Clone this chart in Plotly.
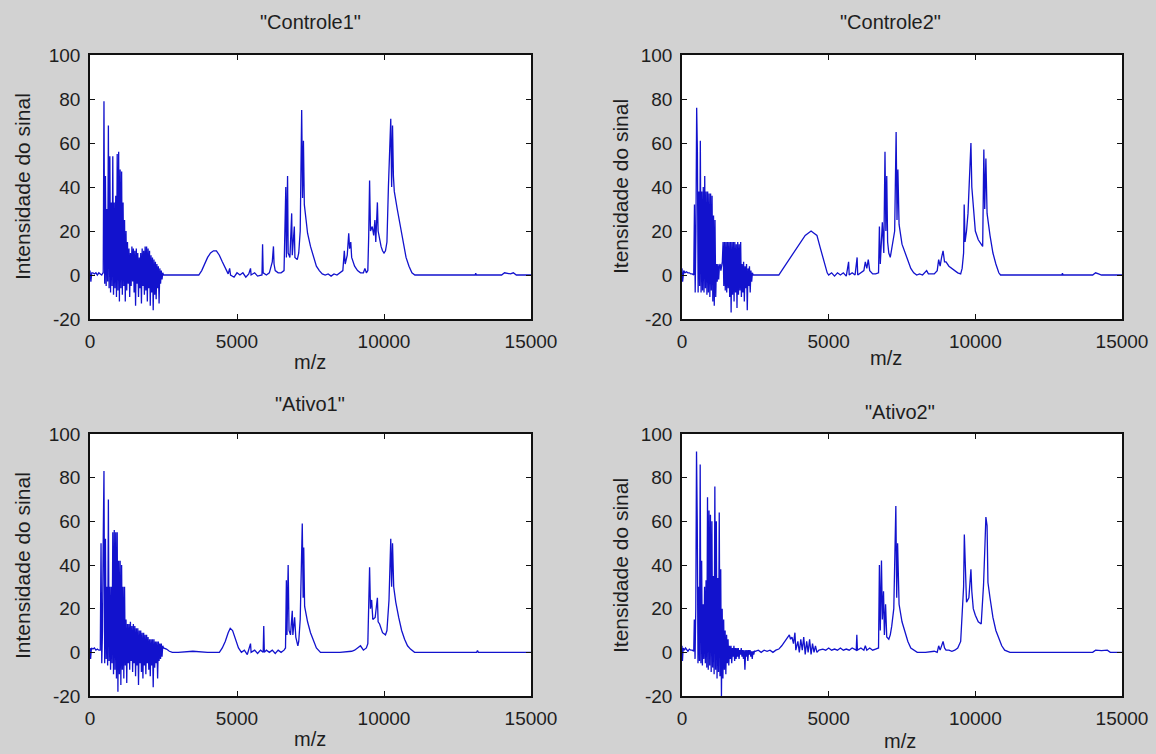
import plotly.graph_objects as go

# ---------------- data ----------------
titles = ['"Controle1"', '"Controle2"', '"Ativo1"', '"Ativo2"']
ylabels = ["Intensidade do sinal", "Itensidade do sinal", "Intensidade do sinal", "Itensidade do sinal"]
xlabel = "m/z"
xticks = [0, 5000, 10000, 15000]
yticks = [-20, 0, 20, 40, 60, 80, 100]

c1_mz = [0, 30, 60, 100, 150, 200, 250, 300, 350, 400, 440,
         450, 475, 500, 525, 550, 575, 600, 625, 650, 675, 700, 725, 750, 775, 800, 825, 850, 875, 900, 925,
         950, 975, 1000, 1025, 1050, 1075, 1100, 1125, 1150, 1175, 1200, 1225, 1250, 1275, 1300, 1325, 1350,
         1375, 1400, 1425, 1450, 1475, 1500, 1525, 1550, 1575, 1600, 1625, 1650, 1675, 1700, 1725, 1750, 1775,
         1800, 1825, 1850, 1875, 1900, 1925, 1950, 1975, 2000, 2025, 2050, 2075, 2100, 2125, 2150, 2175, 2200,
         2225, 2250, 2275, 2300, 2325, 2350, 2375, 2400, 2425, 2450, 2475, 2500,
         2550, 3700, 3800, 3900, 4000, 4100, 4200, 4300, 4400, 4500, 4600, 4700, 4750, 4780, 4900, 5000, 5100,
         5200, 5300, 5400, 5460, 5480, 5600, 5700, 5850, 5870, 5890, 6000, 6100, 6150, 6200, 6240, 6260, 6300,
         6400, 6500, 6600, 6660, 6680, 6720, 6740, 6800, 6860, 6880, 6950, 6970, 7050, 7100, 7150, 7200, 7230,
         7260, 7290, 7350, 7400, 7500, 7600, 7700, 7800, 7900, 8000, 8100, 8200, 8300, 8400, 8500, 8600, 8650,
         8680, 8750, 8800, 8830, 8870, 8900, 9000, 9100, 9200, 9300, 9350, 9400, 9450, 9480, 9510, 9540, 9600,
         9650, 9690, 9720, 9775, 9800, 9850, 9900, 9950, 10000, 10050, 10100, 10150, 10200, 10230, 10260,
         10290, 10320, 10350, 10450, 10550, 10650, 10750, 10850, 10950, 11050, 12000, 13100, 13120, 13140,
         14000, 14100, 14300, 14400, 14500, 15000]
c1_int = [2, -3, 1, 1, 0.5, 1, 0, 1, 0.5, 0, 1,
          1, 79, -4, 45, -5, 30, -3, 68, -6, 54, -8, 33, -5, 54, -9, 33, -6, 36, -10, 55,
          -7, 56, -12, 48, -6, 47, -9, 33, -5, 25, -12, 20, -7, 15, -4, 12, -10,
          10, -5, 13, -3, 12, -8, 11, -14, 12, -4, 10, -10, 8, -6, 10, -13, 12,
          -5, 11, -9, 13, -7, 13, -12, 12, -6, 11, -14, 9, -8, 8, -16, 7, -9,
          6, -11, 5, -6, 4, -13, 3, -4, 2, -2, 1, 0,
          0, 0, 2, 5, 8, 10, 11, 11, 9, 6, 3, 0.5, 3, 0, -1, 1, 0,
          1, -1, 0.5, 3, 0, 1, -0.5, 0, 14, 1, 0, 1, 4, 6, 13, 5, 2,
          1, 1, 2, 40, 8, 45, 10, 8, 28, 9, 22, 8, 7, 10, 20, 75, 35,
          61, 32, 25, 19, 13, 8, 4, 2, 0.5, 0, 0.5, -0.5, 0.5, 0, 1, 2, 11,
          5, 9, 19, 12, 15, 8, 4, 2, 1, 1, 3, 1, 2, 18, 43, 20, 22,
          18, 25, 15, 33, 20, 16, 13, 11, 10, 11, 15, 40, 55, 71, 40,
          68, 45, 38, 30, 22, 14, 8, 4, 1, 0, 0, 0, 0.8, 0,
          0, 1, 0.5, 1, 0, 0]

c2_mz = [0, 20, 60, 100, 150, 200, 250, 300, 350,
         400, 425, 450, 475, 500, 525, 550, 575, 600, 625, 650, 675, 700, 725, 750, 775, 800, 825, 850, 875,
         900, 925, 950, 975, 1000, 1025, 1050, 1075, 1100, 1125, 1150, 1175, 1200, 1225, 1250, 1275, 1300,
         1325, 1350, 1375, 1400, 1425, 1450, 1475, 1500, 1525, 1550, 1575, 1600, 1625, 1650, 1675, 1700,
         1725, 1750, 1775, 1800, 1825, 1850, 1875, 1900, 1925, 1950, 1975, 2000, 2025, 2050, 2075, 2100,
         2125, 2150, 2175, 2200, 2225, 2250, 2275, 2300, 2325, 2350, 2375, 2400, 2425,
         2500, 3300, 3400, 3500, 3600, 3700, 3800, 3900, 4000, 4100, 4200, 4300, 4400, 4500, 4600, 4700,
         4800, 4900, 4950, 5000, 5100, 5200, 5300, 5400, 5500, 5600, 5680, 5700, 5800, 5900, 5970, 5990,
         6100, 6200, 6250, 6300, 6350, 6400, 6500, 6600, 6700, 6730, 6760, 6830, 6880, 6920, 6950, 6980,
         7010, 7050, 7100, 7150, 7250, 7300, 7330, 7360, 7400, 7500, 7600, 7700, 7800, 7900, 8000, 8100,
         8200, 8340, 8400, 8600, 8700, 8750, 8800, 8850, 8900, 8950, 9000, 9100, 9200, 9300, 9400, 9500,
         9550, 9600, 9620, 9650, 9700, 9750, 9790, 9850, 9880, 9940, 10000, 10100, 10200, 10250, 10290,
         10320, 10360, 10400, 10500, 10600, 10700, 10800, 10860, 12950, 12970, 12990, 14000, 14100, 14200,
         14300, 15000]
c2_int = [3, -3, 2, 1, 1.5, 1, 1, 0.5, 0.5,
          0, 32, -8, 20, 76, 56, -8, 38, -5, 61, -8, 38, -7, 40, -8, 45, -6, 38, -9, 38,
          -8, 37, -10, 37, -7, 36, -12, 27, -14, 25, -10, 5, -3, 5, -2, 4, 5,
          2, 4, 6, 15, -5, 15, -7, 15, -8, 15, -6, 15, -10, 15, -17, 15,
          -9, 15, -12, 15, -8, 14, -15, 15, -9, 14, -7, 15, -10, 5, -8, 6,
          -12, 4, -6, 5, -16, 3, -5, 4, -8, 2, -3, 1, 0,
          0, 0, 2, 4, 6, 8, 10, 12, 14, 16, 18, 19, 20, 19, 18, 13,
          8, 3, 1, 0, 1, -0.5, 1, 0, 1, -0.5, 6, 0, 1, 0, 8, 0,
          1, 2, 6, 3, 7, 2, 0.5, 0.5, 1, 22, 5, 24, 10, 56, 20, 45,
          15, 10, 8, 12, 20, 65, 25, 48, 23, 14, 10, 7, 3, 1, 0, 0.5,
          0, 2, 0.5, 0.5, 2, 7, 4, 8, 11, 6, 6, 4, 3, 2, 1, 0.5,
          3, 10, 32, 15, 20, 28, 43, 60, 40, 30, 20, 16, 14, 13, 57,
          30, 53, 28, 18, 10, 5, 1, 0, 0, 0.8, 0, 0, 1, 0.5,
          0, 0]

a1_mz = [0, 20, 50, 100, 150, 200, 250, 300, 350,
         375, 400, 425, 450, 475, 500, 525, 550, 575, 600, 625, 650, 675, 700, 725, 750, 775, 800, 825, 850,
         875, 900, 925, 950, 975, 1000, 1025, 1050, 1075, 1100, 1125, 1150, 1175, 1200, 1225, 1250, 1275,
         1300, 1325, 1350, 1375, 1400, 1425, 1450, 1475, 1500, 1525, 1550, 1575, 1600, 1625, 1650, 1675,
         1700, 1725, 1750, 1775, 1800, 1825, 1850, 1875, 1900, 1925, 1950, 1975, 2000, 2025, 2050, 2075,
         2100, 2125, 2150, 2175, 2200, 2225, 2250, 2275, 2300, 2325, 2350, 2375, 2400, 2425, 2450, 2475,
         2500, 2600, 2700, 2800,
         3000, 3500, 4000, 4400, 4500, 4600, 4700, 4770, 4850, 4950, 5050, 5150, 5250, 5350, 5460, 5480,
         5600, 5700, 5800, 5890, 5910, 5930, 6000, 6100, 6200, 6300, 6400, 6500, 6600, 6650, 6680, 6700,
         6740, 6770, 6820, 6880, 6900, 6960, 7000, 7070, 7100, 7150, 7220, 7250, 7270, 7300, 7400, 7500,
         7600, 7700, 7840, 8000, 8500, 8900, 9000, 9100, 9200, 9300, 9400, 9450, 9475, 9510, 9540, 9580,
         9620, 9700, 9775, 9800, 9850, 9950, 10050, 10100, 10170, 10230, 10260, 10290, 10330, 10400, 10500,
         10600, 10700, 10800, 10900, 11040, 13150, 13180, 13210, 15000]
a1_int = [2, -3, 2, 1.5, 2, 1, 1.5, 1, 1,
          50, -5, 10, 52, 83, -5, 52, -3, 30, -6, 70, -4, 30, -8, 30, -5, 55, -10, 56, -8,
          55, -12, 55, -18, 42, -10, 42, -15, 40, -8, 30, -12, 30, -6, 15, -14, 13,
          -5, 13, -8, 14, -4, 12, -9, 13, -5, 12, -11, 11, -6, 11, -15, 10,
          -5, 10, -9, 9, -12, 9, -6, 8, -10, 8, -5, 7, -8, 6, -11, 6,
          -6, 6, -16, 6, -7, 5, -5, 5, -12, 5, -4, 4, -3, 4, -2, 3,
          2, 1.5, 0.5, 0,
          0, 0.5, 0, 0, 2, 5, 9, 11, 10, 6, 2, 0, 1, -1, 4, 0,
          1, -0.5, 1, 0, 12, 0, 1, 0, 1, -0.5, 1, 0, 1, 2, 33, 8,
          40, 10, 8, 19, 8, 16, 7, 3, 5, 15, 59, 25, 48, 21, 14, 9,
          5, 2, 0, 0, 0, 0.5, 1, 2, 3, 1, 2, 4, 15, 39, 20, 24,
          15, 16, 25, 14, 13, 9, 8, 10, 24, 52, 30, 50, 30, 23, 16,
          10, 6, 3, 1.5, 0, 0, 0.8, 0, 0]

a2_mz = [0, 15, 40, 80, 120, 160, 200, 250, 300, 350, 400,
         420, 445, 470, 495, 520, 545, 570, 595, 620, 645, 670, 695, 720, 745, 770, 795, 820, 845, 870,
         895, 920, 945, 970, 995, 1020, 1045, 1070, 1095, 1120, 1145, 1170, 1195, 1220, 1245, 1270, 1295,
         1320, 1345, 1370, 1395, 1420, 1445, 1470, 1495, 1520, 1545, 1570, 1595, 1620, 1645, 1670, 1695,
         1720, 1745, 1770, 1795, 1820, 1845, 1870, 1895, 1920, 1945, 1970, 1995, 2020, 2045, 2070, 2095,
         2120, 2145, 2170, 2195, 2220, 2245, 2270, 2295, 2320, 2345, 2370, 2395, 2420, 2445, 2470,
         2500, 2600, 2700, 2800, 2900, 3000, 3100, 3200, 3300, 3400, 3500, 3600, 3660, 3700, 3750, 3800,
         3850, 3880, 3950, 4000, 4050, 4100, 4150, 4200, 4250, 4300, 4350, 4400, 4450, 4500, 4550, 4600,
         4670, 4800, 4900, 5000, 5100, 5200, 5300, 5400, 5500, 5600, 5700, 5800, 5940, 5960, 5980, 6100,
         6200, 6250, 6300, 6400, 6500, 6600, 6700, 6730, 6760, 6800, 6830, 6870, 6900, 6940, 6980, 7050,
         7100, 7150, 7220, 7290, 7320, 7350, 7400, 7500, 7600, 7700, 7800, 7900, 8020, 8300, 8600, 8700,
         8750, 8800, 8900, 8950, 9000, 9100, 9200, 9300, 9400, 9500, 9560, 9600, 9625, 9660, 9700, 9780,
         9850, 9880, 9930, 10000, 10100, 10200, 10280, 10330, 10360, 10400, 10430, 10500, 10600, 10700,
         10800, 10900, 11000, 11180, 12000, 14000, 14100, 14300, 14500, 14600, 15000]
a2_int = [3, -4, 2, 1, 2, 1, 0.5, 1.5, 1, 1, 0.5,
          15, -3, 20, 92, 60, -5, 30, -4, 86, -5, 42, -6, 22, -3, 30, -5, 33, -7, 71,
          -8, 65, -6, 63, -9, 60, -7, 35, -10, 76, -8, 60, -12, 34, -9, 64, -11,
          38, -20, 20, -12, 15, -8, 10, -10, 8, -5, 6, -6, 3, -3, 3, -5,
          2, -2, 3, -4, 2, -3, 2, -2, 2, -3, 1, -1, 2, -2, 1, -3,
          1, -8, 1, -2, 1, -4, 1, -1, 1, -2, 0.5, -3, 0.5, -1, 0.5,
          0.5, 1, 0, 1, 0.5, 1, 0, 1, 1.5, 3, 5, 7, 8, 6, 7, 4,
          9, 1, 5, 0, 6, 1, 7, -1, 5, 0, 6, -1, 4, 0, 3, 0,
          1, 1.5, 1, 2, 1, 1.5, 1, 2, 1, 1.5, 1, 2, 1, 8, 1, 2,
          1, 3, 1, 2, 1, 1.5, 2, 40, 10, 42, 15, 28, 8, 22, 7, 6,
          8, 12, 20, 67, 25, 50, 22, 14, 9, 5, 2, 1, 0, 0, 0.5, 0,
          3, 1, 5, 2, 1, 1, 0.5, 1, 2, 5, 20, 30, 54, 33, 23, 25,
          38, 28, 20, 17, 14, 13, 31, 50, 62, 58, 32, 25, 16, 10,
          6, 3, 1, 0, 0, 0, 1, 0.8, 1, 0, 0]

series = [(c1_mz, c1_int), (c2_mz, c2_int), (a1_mz, a1_int), (a2_mz, a2_int)]

# ---------------- layout (pixel geometry of the 1156x754 figure) ----------------
W, H = 1156, 754
boxes = [  # left, right, top, bottom in px
    (90, 531, 55, 319),
    (682, 1122, 55, 319),
    (90, 531, 434, 696),
    (682, 1122, 434, 696),
]
title_pos = [(310, 22), (890, 22), (310, 404), (900, 412)]
xlabel_pos = [(310, 362), (886, 358), (310, 739), (900, 741)]
ylabel_pos = [(22, 187), (620, 187), (22, 566), (620, 566)]

BG = "#d2d2d2"
LINE = "rgb(18,18,205)"
FONT = "Liberation Sans, Arial, sans-serif"
TXT = "#1e1e1e"

fig = go.Figure()
layout = dict(
    width=W, height=H, autosize=False,
    margin=dict(l=0, r=0, t=0, b=0, pad=0, autoexpand=False),
    paper_bgcolor=BG, plot_bgcolor="white",
    showlegend=False,
    font=dict(family=FONT, color=TXT),
)
annotations = []
for i, ((mz, inten), (l, r, t, b)) in enumerate(zip(series, boxes)):
    n = "" if i == 0 else str(i + 1)
    fig.add_trace(go.Scatter(x=mz, y=inten, mode="lines",
                             line=dict(color=LINE, width=1.3),
                             xaxis="x" + n, yaxis="y" + n, hoverinfo="skip"))
    common = dict(showline=True, linecolor="#111", linewidth=1.5, mirror="ticks",
                  ticks="inside", ticklen=5, tickcolor="#111", showgrid=False,
                  zeroline=False, automargin=False,
                  tickfont=dict(family=FONT, size=19, color=TXT))
    layout["xaxis" + n] = dict(common, domain=[l / W, r / W], range=[0, 15000],
                               tickvals=xticks, ticktext=[str(v) for v in xticks],
                               anchor="y" + n, ticklabelstandoff=4)
    layout["yaxis" + n] = dict(common, domain=[1 - b / H, 1 - t / H], range=[-20, 100],
                               tickvals=yticks, ticktext=[str(v) for v in yticks],
                               anchor="x" + n, ticklabelstandoff=4)
    tx, ty = title_pos[i]
    annotations.append(dict(text=titles[i], x=tx / W, y=1 - ty / H, xref="paper", yref="paper",
                            xanchor="center", yanchor="middle",
                            showarrow=False, font=dict(size=20, family=FONT, color=TXT)))
    lx, ly = xlabel_pos[i]
    annotations.append(dict(text=xlabel, x=lx / W, y=1 - ly / H, xref="paper", yref="paper",
                            xanchor="center", yanchor="middle",
                            showarrow=False, font=dict(size=20, family=FONT, color=TXT)))
    yx, yy = ylabel_pos[i]
    annotations.append(dict(text=ylabels[i], x=yx / W, y=1 - yy / H, xref="paper", yref="paper",
                            xanchor="center", yanchor="middle",
                            showarrow=False, textangle=-90, font=dict(size=21, family=FONT, color=TXT)))
layout["annotations"] = annotations
fig.update_layout(**layout)
fig.write_html("out.html", config={"displayModeBar": False},
               post_script="document.body.style.margin='0';document.body.style.overflow='hidden';")
